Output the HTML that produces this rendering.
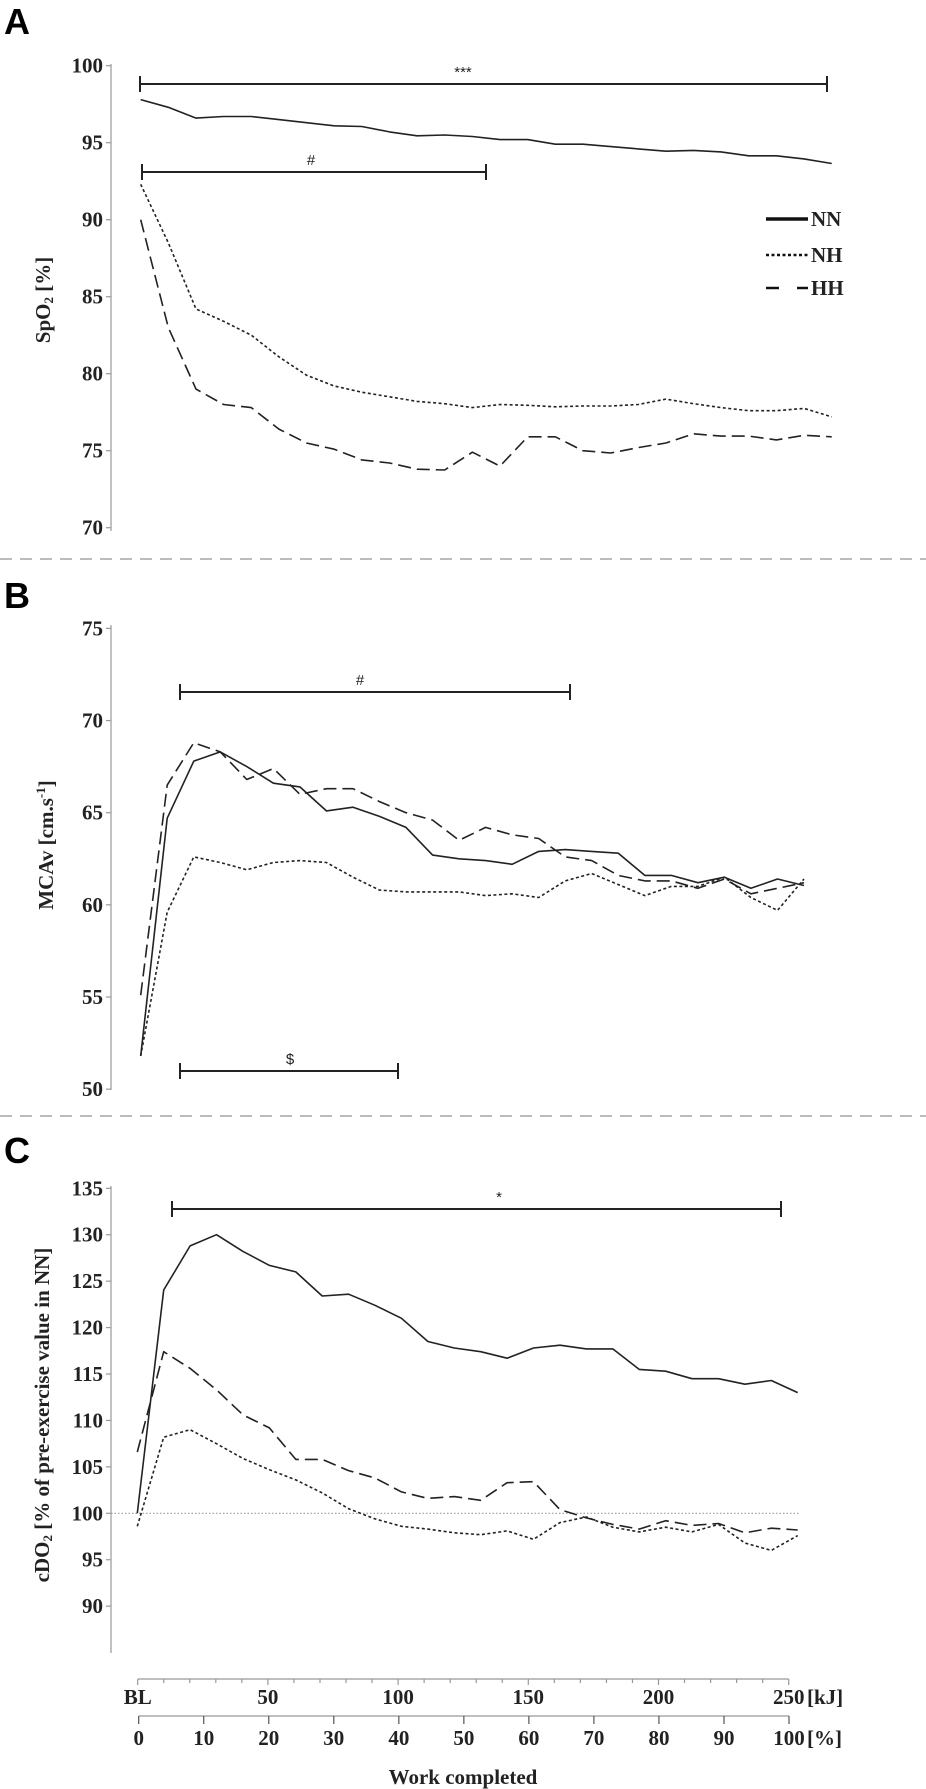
<!DOCTYPE html>
<html><head><meta charset="utf-8"><style>
html,body{margin:0;padding:0;background:#fff;}
svg{display:block;}
.tk{font-family:"Liberation Serif",serif;font-weight:bold;font-size:21px;fill:#222;}
.pl{font-family:"Liberation Sans",sans-serif;font-weight:bold;font-size:36px;fill:#000;}
.sig{font-family:"Liberation Sans",sans-serif;font-size:15px;fill:#222;}
</style></head><body>
<svg id="chart" width="926" height="1789" viewBox="0 0 926 1789" xmlns="http://www.w3.org/2000/svg">
<text class="pl" x="4" y="34">A</text>
<text class="pl" x="4" y="608">B</text>
<text class="pl" x="4" y="1163">C</text>
<line x1="0" y1="559" x2="926" y2="559" stroke="#bbb" stroke-width="2" stroke-dasharray="12,8"/>
<line x1="0" y1="1116" x2="926" y2="1116" stroke="#bbb" stroke-width="2" stroke-dasharray="12,8"/>
<g id="gA"></g>
<g id="gB"></g>
<g id="gC"></g>
</svg>
<script>
// Panel A: SpO2 [%]
const aNN=[97.8,97.3,96.6,96.7,96.7,96.5,96.3,96.1,96.05,95.7,95.45,95.5,95.4,95.2,95.2,94.9,94.9,94.75,94.6,94.45,94.5,94.4,94.15,94.15,93.95,93.65];
const aNH=[92.3,88.5,84.2,83.4,82.5,81.1,79.9,79.2,78.8,78.5,78.2,78.05,77.8,78.0,77.95,77.85,77.9,77.9,78.0,78.35,78.05,77.8,77.6,77.6,77.75,77.2];
const aHH=[90.0,83.0,79.0,78.0,77.8,76.4,75.5,75.1,74.4,74.2,73.8,73.75,74.9,74.0,75.9,75.9,75.0,74.85,75.2,75.5,76.1,75.95,75.95,75.7,76.0,75.9];
const aTicks=[70,75,80,85,90,95,100];
// Panel B: MCAv
const bNN=[51.8,64.7,67.8,68.3,67.5,66.6,66.4,65.1,65.3,64.8,64.2,62.7,62.5,62.4,62.2,62.9,63.0,62.9,62.8,61.6,61.6,61.2,61.5,60.9,61.4,61.05];
const bNH=[51.8,59.6,62.6,62.3,61.9,62.3,62.4,62.3,61.5,60.8,60.7,60.7,60.7,60.5,60.6,60.4,61.3,61.7,61.1,60.5,61.0,61.0,61.5,60.4,59.7,61.4];
const bHH=[55.1,66.5,68.8,68.3,66.8,67.4,66.0,66.3,66.3,65.6,65.0,64.6,63.5,64.2,63.8,63.6,62.6,62.4,61.6,61.3,61.3,60.9,61.4,60.6,60.9,61.2];
const bTicks=[50,55,60,65,70,75];
// Panel C: cDO2
const cNN=[100,124.05,128.8,130,128.2,126.7,126,123.4,123.6,122.4,121,118.5,117.8,117.4,116.7,117.8,118.1,117.7,117.7,115.5,115.3,114.5,114.5,113.9,114.3,113.0];
const cNH=[98.6,108.2,109.0,107.5,105.9,104.7,103.6,102.2,100.5,99.4,98.6,98.3,97.9,97.7,98.1,97.2,99.0,99.6,98.5,98.0,98.5,98.0,98.8,96.8,96.0,97.6];
const cHH=[106.6,117.4,115.6,113.3,110.6,109.2,105.8,105.8,104.6,103.8,102.3,101.6,101.8,101.4,103.3,103.4,100.4,99.5,98.8,98.3,99.2,98.7,98.9,97.9,98.4,98.2];
const cTicks=[90,95,100,105,110,115,120,125,130,135];
const kjTicks=["BL","50","100","150","200","250"];
const pctTicks=["0","10","20","30","40","50","60","70","80","90","100"];

const NS="http://www.w3.org/2000/svg";
function mk(tag,attrs,parent){const e=document.createElementNS(NS,tag);for(const k in attrs)e.setAttribute(k,attrs[k]);parent.appendChild(e);return e;}
const styles={NN:"",NH:"3,2.5",HH:"13,6"};

function panel(g,cfg){
  const ys=v=>cfg.y0+(v-cfg.v0)*(cfg.y1-cfg.y0)/(cfg.v1-cfg.v0);
  const xs=i=>cfg.x0+i*(cfg.x1-cfg.x0)/(cfg.n-1);
  const ax=mk('line',{x1:111,y1:cfg.axTop,x2:111,y2:cfg.axBot,stroke:'#999','stroke-width':1.2},g);
  
  
  cfg.ticks.forEach(t=>{
    const tl=mk('line',{x1:106,y1:ys(t),x2:111,y2:ys(t),stroke:'#999','stroke-width':1.2},g);
    
    
    const tx=mk('text',{x:103,y:ys(t)+7,'text-anchor':'end',class:'tk'},g);
    tx.textContent=t;
    
    
  });
  const tt=mk('text',{x:0,y:0,class:'tk','text-anchor':'middle',transform:`translate(${cfg.titleX},${cfg.titleY}) rotate(-90)`,'font-size':cfg.titleSize},g);
  tt.innerHTML=cfg.title;
  
  
  [['NN',cfg.NN],['NH',cfg.NH],['HH',cfg.HH]].forEach(([k,arr])=>{
    const d=arr.map((v,i)=>(i?'L':'M')+xs(i).toFixed(1)+','+ys(v).toFixed(1)).join(' ');
    const p=mk('path',{d:d,fill:'none',stroke:'#222','stroke-width':1.6,'stroke-linejoin':'round'},g);
    if(styles[k])p.setAttribute('stroke-dasharray',styles[k]);
    
    
  });
}
function sigbar(g,x1,x2,y,label,lx,name){
  const b=mk('path',{d:`M${x1},${y-8}V${y+8}M${x1},${y}H${x2}M${x2},${y-8}V${y+8}`,stroke:'#222','stroke-width':2,fill:'none'},g);
  
  
  const t=mk('text',{x:lx,y:y-7,'text-anchor':'middle',class:'sig'},g);
  t.textContent=label;
  
  
}

const gA=document.getElementById('gA'),gB=document.getElementById('gB'),gC=document.getElementById('gC');
panel(gA,{NN:aNN,NH:aNH,HH:aHH,ticks:aTicks,n:aNN.length,x0:140.7,x1:831.7,v0:100,y0:65.7,v1:70,y1:527.7,axTop:64,axBot:531,
  title:'SpO<tspan font-size="13" dy="3">2</tspan><tspan dy="-3"> [%]</tspan>',titleX:50,titleY:300,titleSize:21});
sigbar(gA,140,827,84,'***',463,'sig-bar-nn');
sigbar(gA,142,486,172,'#',311,'sig-bar-nh');
[['NN','',219],['NH','3,2.5',255],['HH','13,18',288]].forEach(([k,da,y])=>{
  const l=mk('line',{x1:766,y1:y,x2:808,y2:y,stroke:'#111','stroke-width':k==='NN'?3.5:2.5},gA);
  if(da)l.setAttribute('stroke-dasharray',da);
  
  
  const t=mk('text',{x:811,y:y+7,class:'tk','font-size':19},gA);
  t.textContent=k;
  
  
});

panel(gB,{NN:bNN,NH:bNH,HH:bHH,ticks:bTicks,n:bNN.length,x0:140.7,x1:804,v0:65,y0:812.7,v1:55,y1:997,axTop:625,axBot:1090,
  title:'MCAv [cm.s<tspan font-size="13" dy="-8">-1</tspan><tspan dy="8">]</tspan>',titleX:53,titleY:845,titleSize:21});
sigbar(gB,180,570,692,'#',360,'sig-bar-hash');
sigbar(gB,180,398,1071,'$',290,'sig-bar-dollar');

const ref=mk('line',{x1:111,y1:1513.3,x2:799,y2:1513.3,stroke:'#999','stroke-width':1.2,'stroke-dasharray':'1.5,2'},gC);


panel(gC,{NN:cNN,NH:cNH,HH:cHH,ticks:cTicks,n:cNN.length,x0:137.3,x1:797.7,v0:135,y0:1188.3,v1:100,y1:1513.3,axTop:1186,axBot:1653,
  title:'cDO<tspan font-size="13" dy="3">2</tspan><tspan dy="-3">  [% of pre-exercise value in NN]</tspan>',titleX:49,titleY:1415,titleSize:23});
sigbar(gC,172,781,1209,'*',499,'sig-bar-star');

// x axes
const kx=i=>137.7+i*(788.7-137.7)/25;
const ka=mk('line',{x1:137.7,y1:1679,x2:788.7,y2:1679,stroke:'#999','stroke-width':1.2},gC);


for(let i=0;i<=25;i++){const t=mk('line',{x1:kx(i),y1:1679,x2:kx(i),y2:i%5===0?1685:1683,stroke:'#999','stroke-width':1.2},gC);
  
  }
kjTicks.forEach((s,i)=>{const t=mk('text',{x:kx(i*5),y:1704,'text-anchor':'middle',class:'tk'},gC);t.textContent=s;
  
  });
const ku=mk('text',{x:807,y:1704,class:'tk'},gC);ku.textContent='[kJ]';


const px=i=>138.7+i*(789-138.7)/10;
const pa=mk('line',{x1:138.7,y1:1716,x2:789,y2:1716,stroke:'#999','stroke-width':1.2},gC);


pctTicks.forEach((s,i)=>{const l=mk('line',{x1:px(i),y1:1716,x2:px(i),y2:1724,stroke:'#555','stroke-width':1.2},gC);
  
  
  const t=mk('text',{x:px(i),y:1745,'text-anchor':'middle',class:'tk'},gC);t.textContent=s;
  
  });
const pu=mk('text',{x:807,y:1745,class:'tk'},gC);pu.textContent='[%]';


const xt=mk('text',{x:463,y:1784,'text-anchor':'middle',class:'tk'},gC);xt.textContent='Work completed';


</script>
</body></html>
